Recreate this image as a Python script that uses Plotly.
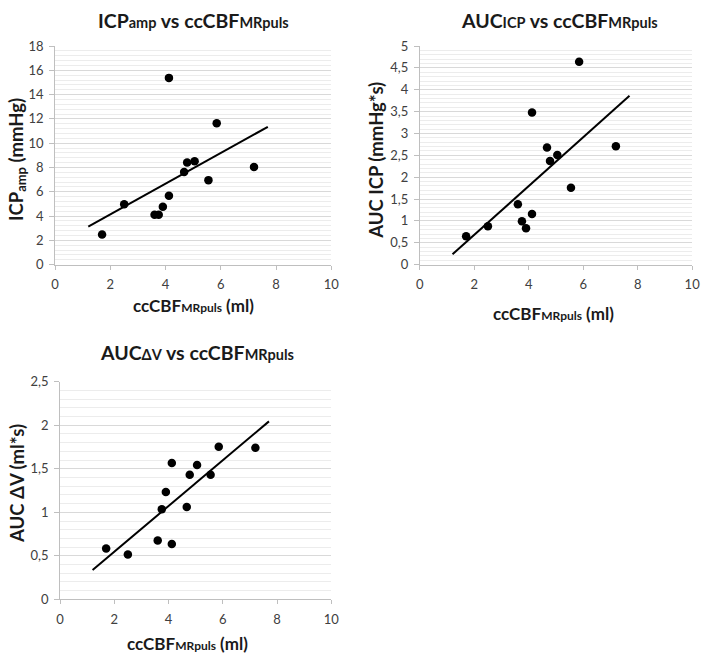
import numpy as np
import plotly.graph_objects as go

# ---- data ----
cbf_x = [1.70, 2.50, 3.60, 3.75, 3.90, 4.12, 4.12, 4.67, 4.78, 5.05, 5.55, 5.85, 7.20]
icp_amp = [2.49, 4.98, 4.10, 4.10, 4.77, 5.68, 15.38, 7.63, 8.41, 8.52, 6.96, 11.65, 8.04]
auc_icp = [0.65, 0.88, 1.38, 0.99, 0.83, 1.16, 3.48, 2.68, 2.37, 2.51, 1.76, 4.64, 2.71]
auc_dv = [0.583, 0.516, 0.676, 1.035, 1.233, 0.635, 1.566, 1.061, 1.431, 1.543, 1.431, 1.753, 1.741]

x_ticks = [0, 2, 4, 6, 8, 10]
y1_ticks = [0, 2, 4, 6, 8, 10, 12, 14, 16, 18]
y2_ticks = [0, 0.5, 1, 1.5, 2, 2.5, 3, 3.5, 4, 4.5, 5]
y3_ticks = [0, 0.5, 1, 1.5, 2, 2.5]

W, H = 708, 662
FONT = "Lato"
TXT = "#1a1a1a"
TICK = "#404040"


def px(x):
    return x / W


def py(y):
    return 1 - y / H


def fmt(v):
    s = ("%g" % v)
    return s.replace(".", ",")


fig = go.Figure()

panels = [
    dict(y=icp_amp, xa="x", ya="y"),
    dict(y=auc_icp, xa="x2", ya="y2"),
    dict(y=auc_dv, xa="x3", ya="y3"),
]

for p in panels:
    xs = np.array(cbf_x)
    ys = np.array(p["y"])
    slope, icpt = np.polyfit(xs, ys, 1)
    tx = np.array([xs.min() - 0.5, xs.max() + 0.5])
    fig.add_trace(go.Scatter(x=tx, y=slope * tx + icpt, mode="lines",
                             line=dict(color="black", width=2),
                             xaxis=p["xa"], yaxis=p["ya"], showlegend=False,
                             hoverinfo="skip"))
    fig.add_trace(go.Scatter(x=cbf_x, y=p["y"], mode="markers",
                             marker=dict(color="black", size=8.5),
                             xaxis=p["xa"], yaxis=p["ya"], showlegend=False))


def xaxis(domain, anchor):
    return dict(domain=domain, anchor=anchor, range=[0, 10], tickvals=x_ticks,
                ticktext=[fmt(v) for v in x_ticks], showgrid=False, zeroline=False,
                showline=True, linecolor="#bfbfbf", linewidth=1,
                ticks="outside", ticklen=4, tickcolor="#bfbfbf",
                tickfont=dict(family=FONT, size=13, color=TICK),
                ticklabelstandoff=4, ticklabeloverflow="allow", fixedrange=True)


def yaxis(domain, anchor, ticks, minor):
    return dict(domain=domain, anchor=anchor, range=[ticks[0], ticks[-1]],
                tickvals=ticks, ticktext=[fmt(v) for v in ticks],
                showgrid=True, gridcolor="#d9d9d9", gridwidth=1, zeroline=False,
                showline=True, linecolor="#bfbfbf", linewidth=1,
                ticks="outside", ticklen=5, tickcolor="#bfbfbf",
                tickfont=dict(family=FONT, size=13, color=TICK),
                ticklabelstandoff=3,
                minor=dict(dtick=minor, showgrid=True, gridcolor="#ececec", gridwidth=1, ticks=""),
                fixedrange=True)


fig.update_layout(
    width=W, height=H,
    margin=dict(l=0, r=0, t=0, b=0),
    paper_bgcolor="white", plot_bgcolor="white",
    xaxis=xaxis([px(52), px(333)], "y"),
    yaxis=yaxis([py(263), py(39)], "x", y1_ticks, 0.4),
    xaxis2=xaxis([px(423), px(700)], "y2"),
    yaxis2=yaxis([py(263), py(39)], "x2", y2_ticks, 0.1),
    xaxis3=xaxis([px(57), px(333)], "y3"),
    yaxis3=yaxis([py(606), py(383)], "x3", y3_ticks, 0.1),
)

S = '<span style="font-size:%spx">%s</span>'
cc = "ccCBF" + S % (12, "MRpuls") + " (ml)"

ann = [
    # chart titles
    ("<b>ICP" + S % (14.5, "amp") + " vs ccCBF" + S % (14.5, "MRpuls") + "</b>", 193, 13, 0, 19.5),
    ("<b>AUC" + S % (14.5, "ICP") + " vs ccCBF" + S % (14.5, "MRpuls") + "</b>", 565, 13, 0, 19.5),
    ("<b>AUC" + S % (14.5, "ΔV") + " vs ccCBF" + S % (14.5, "MRpuls") + "</b>", 196, 353, 0, 19.5),
    # x titles
    ("<b>" + cc + "</b>", 193, 305, 0, 17),
    ("<b>" + cc + "</b>", 559, 313, 0, 17),
    ("<b>" + cc + "</b>", 187, 651, 0, 17),
    # y titles
    ("<b>ICP<sub>amp</sub> (mmHg)</b>", 13, 155, -90, 18.5),
    ("<b>AUC ICP (mmHg*s)</b>", 379, 156, -90, 18.5),
    ("<b>AUC ΔV (ml*s)</b>", 13, 487, -90, 18.5),
]
for text, x, y, ang, size in ann:
    fig.add_annotation(text=text, xref="paper", yref="paper", x=px(x), y=py(y),
                       xanchor="center", yanchor="middle", showarrow=False,
                       textangle=ang, font=dict(family=FONT, size=size, color=TXT))

fig.write_html("out.html",
               config={"displayModeBar": False},
               post_script="document.body.style.margin='0';document.body.style.overflow='hidden';")
